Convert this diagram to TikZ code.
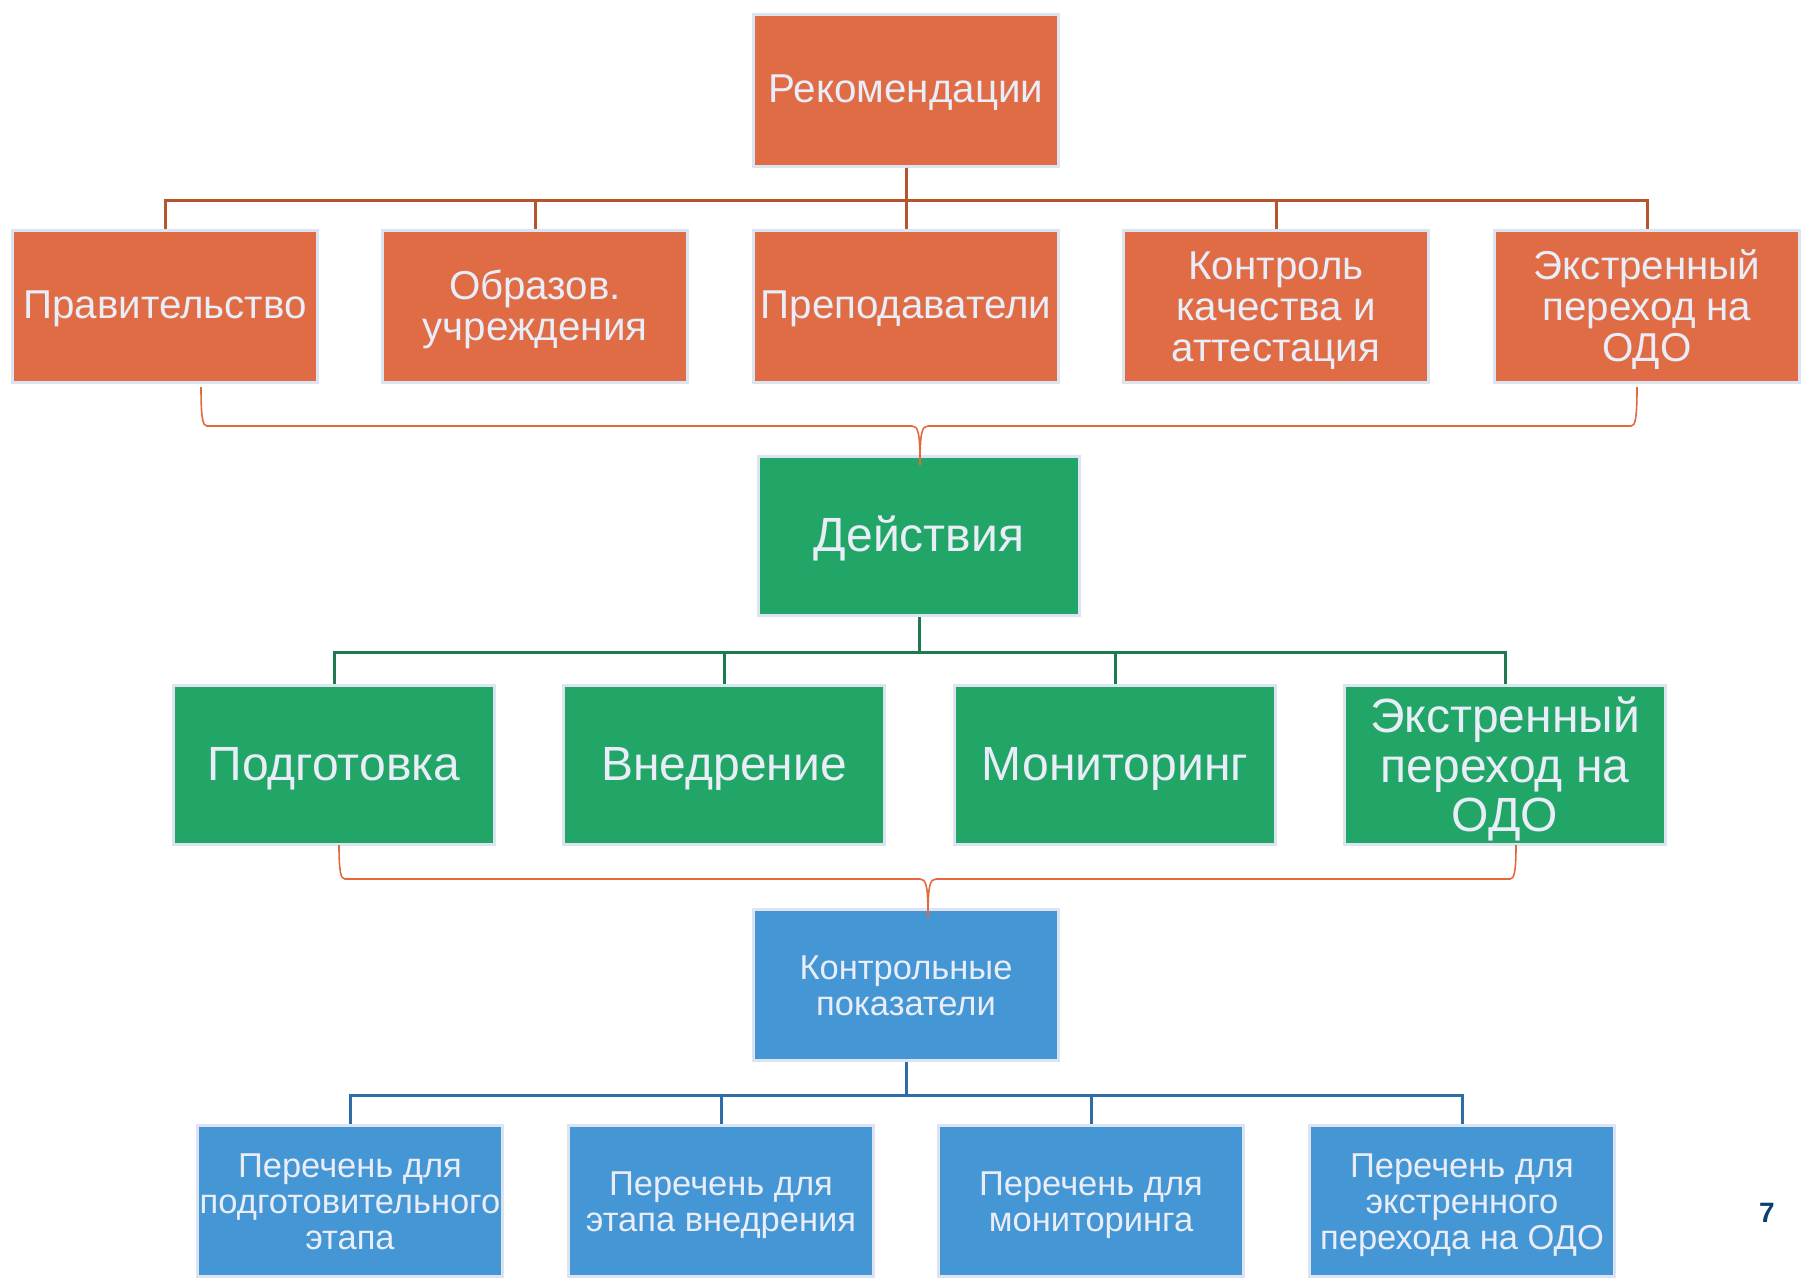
\documentclass[tikz,border=0pt]{standalone}
\usepackage{fontspec}
\setmainfont{Liberation Sans}
\usepackage{tikz}

\definecolor{recorange}{HTML}{E06C45}
\definecolor{orangeline}{HTML}{B4552F}
\definecolor{actgreen}{HTML}{22A667}
\definecolor{greenline}{HTML}{1C7A4E}
\definecolor{kpiblue}{HTML}{4596D4}
\definecolor{blueline}{HTML}{2F6DA8}
\definecolor{boxline}{HTML}{DCE4F1}
\definecolor{boxtext}{HTML}{E9EDF7}
\definecolor{bracecol}{HTML}{E4693F}
\definecolor{pagenum}{HTML}{0B3F73}

\newcommand{\boxstrut}{\rule[-.18\baselineskip]{0pt}{\baselineskip}}
\newcommand{\lift}{\rule{0pt}{.88\baselineskip}}

\begin{document}
\begin{tikzpicture}[x=1pt,y=-1pt,
    every node/.style={draw=boxline, line width=3pt, inner sep=0pt, align=center, text=boxtext,
        execute at begin node=\boxstrut, execute at end node=\boxstrut},
    obox/.style={fill=recorange, minimum width=305pt, minimum height=152pt, font=\fontsize{40.3}{41}\selectfont},
    gbox/.style={fill=actgreen, minimum width=321pt, minimum height=159pt, font=\fontsize{48}{49.5}\selectfont},
    bbox/.style={fill=kpiblue, minimum width=305pt, minimum height=151pt, font=\fontsize{34.5}{36}\selectfont},
    otree/.style={draw=orangeline, line width=3pt},
    gtree/.style={draw=greenline, line width=3pt},
    btree/.style={draw=blueline, line width=3pt},
    brace/.style={draw=bracecol, line width=1.6pt}]
    \useasboundingbox (0,0) rectangle (1806,1282);

    % recommendations
    \node[obox] (rec) at (906,90) {Рекомендации};
    \node[obox] (gov) at (165,306) {Правительство};
    \node[obox] (edu) at (535,306) {\lift Образов.\\учреждения};
    \node[obox] (tea) at (906,306) {Преподаватели};
    \node[obox] (qual) at (1276,306) {\lift Контроль\\качества и\\аттестация};
    \node[obox] (emg) at (1647,306) {\lift Экстренный\\переход на\\ОДО};

    % actions
    \node[gbox] (act) at (919,536) {Действия};
    \node[gbox] (prep) at (334,765) {Подготовка};
    \node[gbox] (impl) at (724,765) {Внедрение};
    \node[gbox] (mon) at (1115,765) {Мониторинг};
    \node[gbox] (emga) at (1505,765) {\lift Экстренный\\переход на\\ОДО};

    % indicators
    \node[bbox] (kpi) at (906,985) {\lift Контрольные\\показатели};
    \node[bbox] (lprep) at (350,1201) {\lift Перечень для\\подготовительного\\этапа};
    \node[bbox] (limpl) at (721,1201) {\lift Перечень для\\этапа внедрения};
    \node[bbox] (lmon) at (1091,1201) {\lift Перечень для\\мониторинга};
    \node[bbox] (lemg) at (1462,1201) {\lift Перечень для\\экстренного\\перехода на ОДО};

    \node[draw=none, text=pagenum, font=\fontsize{28}{30}\bfseries] (page) at (1767,1213) {7};

    \foreach \c in {gov,edu,tea,qual,emg}
        \draw[otree] (rec.south) -- ++(0,33) -| (\c.north);
    \foreach \c in {prep,impl,mon,emga}
        \draw[gtree] (act.south) -- ++(0,35) -| (\c.north);
    \foreach \c in {lprep,limpl,lmon,lemg}
        \draw[btree] (kpi.south) -- ++(0,33) -| (\c.north);

    % braces
    \coordinate (br1l) at (201,387);
    \coordinate (br1r) at (1637,387);
    \coordinate (br1t) at (920,465);
    \coordinate (br2l) at (339,845);
    \coordinate (br2r) at (1516,845);
    \coordinate (br2t) at (928,917);
    \draw[brace] (br1l) .. controls (201,420) and (203,426) .. (207,426) -- (912,426)
        .. controls (918,426) and (920,432) .. (br1t)
        .. controls (920,432) and (922,426) .. (928,426) -- (1631,426)
        .. controls (1635,426) and (1637,420) .. (br1r);
    \draw[brace] (br2l) .. controls (339,873) and (341,879) .. (345,879) -- (920,879)
        .. controls (926,879) and (928,885) .. (br2t)
        .. controls (928,885) and (930,879) .. (936,879) -- (1510,879)
        .. controls (1514,879) and (1516,873) .. (br2r);
\end{tikzpicture}
\end{document}
